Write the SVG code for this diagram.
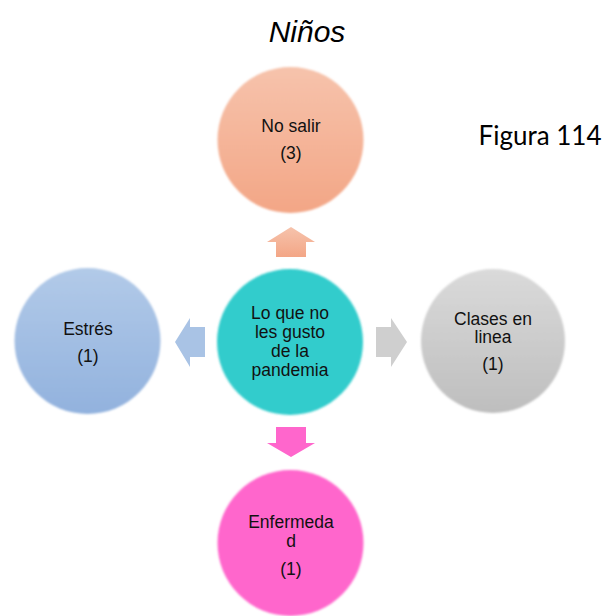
<svg xmlns="http://www.w3.org/2000/svg" width="605" height="616" viewBox="0 0 605 616">
<defs>
<linearGradient id="gSalmon" x1="0" y1="0" x2="0" y2="1"><stop offset="0" stop-color="#F6C3AC"/><stop offset="1" stop-color="#F3A686"/></linearGradient>
<linearGradient id="gBlue" x1="0" y1="0" x2="0" y2="1"><stop offset="0" stop-color="#B2CAE8"/><stop offset="1" stop-color="#92B2DE"/></linearGradient>
<linearGradient id="gGray" x1="0" y1="0" x2="0" y2="1"><stop offset="0" stop-color="#DADADA"/><stop offset="1" stop-color="#BEBEBE"/></linearGradient>
<filter id="soft" x="-5%" y="-5%" width="110%" height="110%"><feGaussianBlur stdDeviation="0.8"/></filter>
</defs>
<style>
.lbl{font-family:"Liberation Sans",Arial,sans-serif;font-size:17.5px;fill:#111;text-anchor:middle}
.title{font-family:"Liberation Sans",Arial,sans-serif;font-size:30px;font-style:italic;fill:#000;text-anchor:middle}
.fig{font-family:Lato,"Liberation Sans",sans-serif;font-size:26px;fill:#000;text-anchor:middle}
</style>
<text class="title" x="307" y="42">Niños</text>
<text class="fig" x="540" y="145">Figura 114</text>
<g id="connectors">
<polygon points="276,257 276,242 267,242 291,227 315,242 306,242 306,257" fill="url(#gSalmon)"/>
<polygon points="376,327 391,327 391,318 407,342 391,367 391,357 376,357" fill="#CFCFCF"/>
<polygon points="205,327 190,327 190,318 175,342 190,367 190,357 205,357" fill="#A9C3E5"/>
<polygon points="276,427 306,427 306,443 315,443 291,457 267,443 276,443" fill="#FF66CC"/>
</g>
<g id="center">
<circle cx="290" cy="342" r="73" fill="#33CCCC" filter="url(#soft)"/>
<text class="lbl" x="290" y="319">Lo que no</text>
<text class="lbl" x="290" y="338">les gusto</text>
<text class="lbl" x="290" y="357">de la</text>
<text class="lbl" x="290" y="376">pandemia</text>
</g>
<g id="no-salir">
<circle cx="290.5" cy="140" r="73" fill="url(#gSalmon)" filter="url(#soft)"/>
<text class="lbl" x="291" y="132">No salir</text>
<text class="lbl" x="291" y="159">(3)</text>
</g>
<g id="estres">
<circle cx="87.5" cy="341" r="73" fill="url(#gBlue)" filter="url(#soft)"/>
<text class="lbl" x="88" y="335">Estrés</text>
<text class="lbl" x="88" y="362">(1)</text>
</g>
<g id="clases">
<circle cx="493" cy="341" r="72" fill="url(#gGray)" filter="url(#soft)"/>
<text class="lbl" x="493" y="325">Clases en</text>
<text class="lbl" x="493" y="343">linea</text>
<text class="lbl" x="493" y="370">(1)</text>
</g>
<g id="enfermedad">
<circle cx="290.5" cy="543" r="73" fill="#FF66CC" filter="url(#soft)"/>
<text class="lbl" x="291" y="528">Enfermeda</text>
<text class="lbl" x="291" y="547">d</text>
<text class="lbl" x="291" y="575">(1)</text>
</g>
</svg>
